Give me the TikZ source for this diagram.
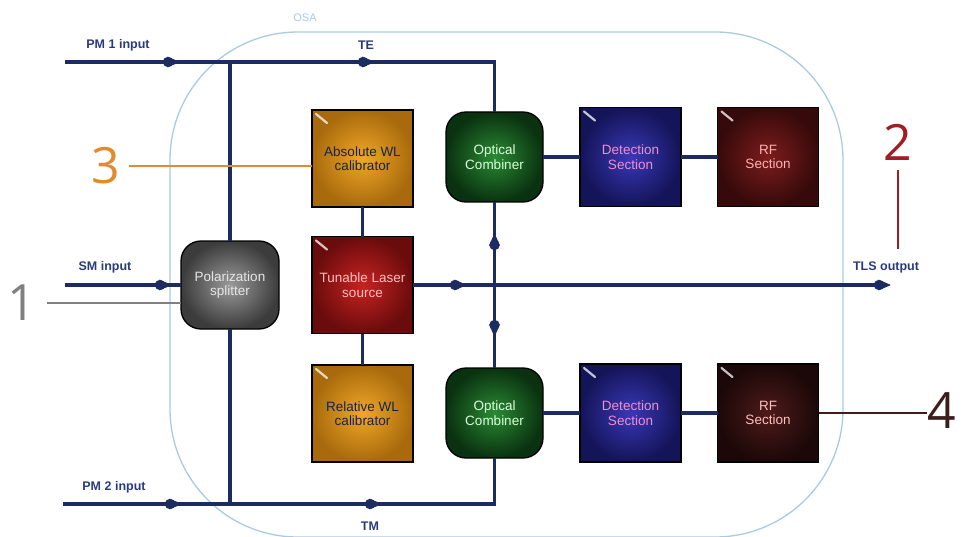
\documentclass[tikz,border=0pt]{standalone}
\usepackage{fontspec}
\setmainfont{Liberation Sans}
\newfontfamily\callfont{Open Sans}
\usetikzlibrary{arrows.meta}
\definecolor{navy}{HTML}{1C2C60}
\definecolor{osablue}{HTML}{A9CBE2}
\definecolor{lblcol}{HTML}{2A3A7A}
\definecolor{orgin}{HTML}{F0A828}\definecolor{orgout}{HTML}{A86A0C}
\definecolor{redin}{HTML}{C82222}\definecolor{redout}{HTML}{6A0C0C}
\definecolor{grnin}{HTML}{2A8A34}\definecolor{grnout}{HTML}{0A3210}
\definecolor{bluin}{HTML}{3838B8}\definecolor{bluout}{HTML}{141458}
\definecolor{rfain}{HTML}{7E1C1C}\definecolor{rfaout}{HTML}{360A0A}
\definecolor{rfbin}{HTML}{4E1A1A}\definecolor{rfbout}{HTML}{1C0808}
\definecolor{gryin}{HTML}{9A9A9A}\definecolor{gryout}{HTML}{3C3C3C}
\definecolor{cone}{HTML}{808080}
\definecolor{ctwo}{HTML}{A11D26}
\definecolor{cthree}{HTML}{E38B2C}
\definecolor{cfour}{HTML}{3D1C1C}
\begin{document}
\begin{tikzpicture}[x=1pt,y=-1pt,
  wire/.style={draw=navy,line width=3.4pt},
  marker/.pic={\fill[navy] (-3pt,0pt) circle (5.2pt);
     \fill[navy,rounded corners=0.8pt] (-4pt,-5.6pt) -- (9pt,0pt) -- (-4pt,5.6pt) -- cycle;},
  blk/.style={draw=black,line width=1.3pt,inner sep=0pt,outer sep=0pt,align=center,
    font=\fontsize{13.5}{14.5}\selectfont},
  hilite/.style={path picture={\draw[white,line width=2.2pt,opacity=.75,line cap=round]
    ([xshift=4pt,yshift=-4pt]path picture bounding box.north west) -- ++(11pt,-9pt);}},
  sqbox/.style={blk,hilite,minimum width=101pt,minimum height=97pt},
  rdbox/.style={blk,rounded corners=20pt,minimum width=97pt,minimum height=90pt},
  lbl/.style={text=lblcol,font=\fontsize{12.5}{14}\selectfont\bfseries},
  callnum/.style={font=\callfont\fontsize{50}{50}\selectfont,inner sep=1pt},
  callline/.style={line width=1.2pt}]
\useasboundingbox (0,0) rectangle (965,537);
% OSA boundary
\draw[osablue,line width=1.3pt,rounded corners=128pt] (170,32) rectangle (843,537);
\node[text=osablue,font=\fontsize{11}{12}\selectfont] (osa) at (305,18) {OSA};
% blocks
\node[sqbox,inner color=orgin,outer color=orgout,text=navy!80!black] (abs) at (362.5,158.5) {Absolute WL\\calibrator};
\node[sqbox,inner color=redin,outer color=redout,text=red!25!white] (tls) at (362.5,285) {Tunable Laser\\source};
\node[sqbox,inner color=orgin,outer color=orgout,text=navy!80!black] (rel) at (362.5,413.5) {Relative WL\\calibrator};
\node[rdbox,inner color=grnin,outer color=grnout,text=green!15!white] (comb1) at (494.5,157) {Optical\\Combiner};
\node[rdbox,inner color=grnin,outer color=grnout,text=green!15!white] (comb2) at (494.5,413) {Optical\\Combiner};
\node[sqbox,minimum height=99pt,inner color=bluin,outer color=bluout,text=magenta!45!white] (det1) at (630.5,157) {Detection\\Section};
\node[sqbox,minimum height=99pt,inner color=rfain,outer color=rfaout,text=red!30!white] (rf1) at (768,157) {RF\\Section};
\node[sqbox,minimum height=98pt,inner color=bluin,outer color=bluout,text=magenta!45!white] (det2) at (630.5,413) {Detection\\Section};
\node[sqbox,minimum height=98pt,inner color=rfbin,outer color=rfbout,text=red!25!white] (rf2) at (768,413) {RF\\Section};
\node[blk,rounded corners=20pt,minimum width=98pt,minimum height=88pt,inner color=gryin,outer color=gryout,text=white!80!gray] (split) at (230,285) {Polarization\\splitter};
% labels
\node[lbl] (lpm1) at (118,45) {PM 1 input};
\node[lbl] (lte) at (366,45) {TE};
\node[lbl] (lsm) at (105,267) {SM input};
\node[lbl] (ltls) at (886,267) {TLS output};
\node[lbl] (lpm2) at (114,487) {PM 2 input};
\node[lbl] (ltm) at (370,526) {TM};
% coordinates
\coordinate (pm1in) at (65,62);
\coordinate (j1) at (230,62);
\coordinate (c1) at (494.5,62);
\coordinate (smin) at (65,285);
\coordinate (j3) at (494.5,285);
\coordinate (tlsend) at (882,285);
\coordinate (pm2in) at (63,504);
\coordinate (j2) at (230,504);
\coordinate (c2) at (494.5,504);
% wires
\draw[wire] (pm1in) -- (j1);
\draw[wire] (j1) -- (c1) -- (comb1.north);
\draw[wire] (j1) -- (split.north);
\draw[wire] (smin) -- (split.west);
\draw[wire] (split.south) -- (j2);
\draw[wire] (pm2in) -- (j2);
\draw[wire] (j2) -- (c2) -- (comb2.south);
\draw[wire] (tls.east) -- (j3);
\draw[wire] (j3) -- (tlsend);
\draw[wire] (comb1.south) -- (j3);
\draw[wire] (j3) -- (comb2.north);
\draw[wire] (abs.south) -- (tls.north);
\draw[wire] (tls.south) -- (rel.north);
\draw[wire] (comb1.east) -- (det1.west);
\draw[wire] (det1.east) -- (rf1.west);
\draw[wire] (comb2.east) -- (det2.west);
\draw[wire] (det2.east) -- (rf2.west);
% direction markers
\pic at (171,62) {marker};
\pic at (366,62) {marker};
\pic at (163,285) {marker};
\pic at (458,285) {marker};
\pic at (tlsend) {marker};
\pic at (173,504) {marker};
\pic at (373,504) {marker};
\pic[rotate=90] at (494.5,242) {marker};
\pic[rotate=-90] at (494.5,328) {marker};
% callouts
\node[callnum,text=cone] (n1) at (22,303) {1};
\draw[callline,cone] (n1.east) ++(10pt,0) -- (n1.east -| split.west);
\node[callnum,text=cthree] (n3) at (106,166) {3};
\draw[callline,cthree] (n3.east) ++(8pt,0) -- (n3.east -| abs.west);
\node[callnum,text=ctwo] (n2) at (898,142) {2};
\draw[callline,ctwo,shorten <=9pt,shorten >=9pt] (n2.south) -- (n2.south |- ltls.north);
\node[callnum,text=cfour] (n4) at (942,411) {4};
\draw[callline,cfour] (rf2.east) -- (rf2.east -| n4.west);
\end{tikzpicture}
\end{document}
